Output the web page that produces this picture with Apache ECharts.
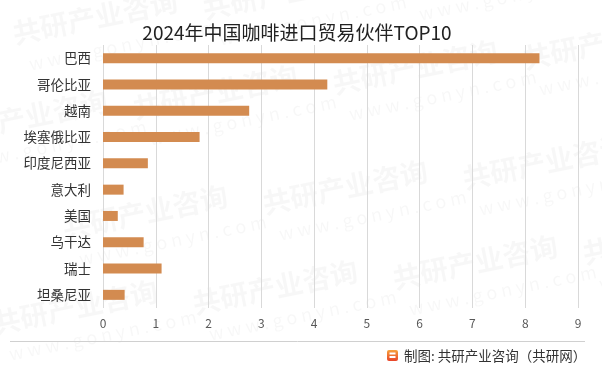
<!DOCTYPE html>
<html>
<head>
<meta charset="utf-8">
<script src="https://cdn.jsdelivr.net/npm/echarts@6/dist/echarts.min.js"></script>
<style>
html,body{margin:0;padding:0;background:#fff;}
#chart{width:602px;height:368px;}
</style>
</head>
<body>
<div id="chart"></div>
<script>
var titleText = '2024年中国咖啡进口贸易伙伴TOP10';
var categories = ['巴西','哥伦比亚','越南','埃塞俄比亚','印度尼西亚','意大利','美国','乌干达','瑞士','坦桑尼亚'];
var values = [8.27, 4.25, 2.77, 1.83, 0.85, 0.39, 0.28, 0.77, 1.11, 0.41];
var xTicks = [0,1,2,3,4,5,6,7,8,9];
var footerText = '制图: 共研产业咨询（共研网）';

var FONT = '"Noto Sans CJK SC", "Noto Sans", sans-serif';

var wm = [];
var wmPos = [[10,20],[200,-5],[400,-30],[-60,120],[130,95],[330,70],[520,45],[60,215],[260,190],[460,165],[-10,310],[190,290],[390,265],[580,240]];
wmPos.forEach(function(p){
  wm.push({type:'group', x:p[0], y:p[1], rotation:0.2, silent:true, z:0,
    children:[
      {type:'text', style:{text:'共研产业咨询', x:0, y:0, fill:'rgba(0,0,0,0.032)', font:'bold 28px ' + FONT}},
      {type:'text', style:{text:'w w w . g o n y n . c o m', x:10, y:38, fill:'rgba(0,0,0,0.032)', font:'18px ' + FONT}}
    ]});
});

var chart = echarts.init(document.getElementById('chart'));
chart.setOption({
  animation:false,
  backgroundColor:'#fff',
  title:{text:titleText, left:292, top:18, textAlign:'center',
    textStyle:{fontFamily:FONT, fontSize:19, fontWeight:'normal', color:'#222'}},
  grid:{left:103, right:24, top:45, bottom:60, containLabel:false},
  xAxis:{type:'value', min:0, max:9, interval:1,
    axisLine:{show:false}, axisTick:{show:false},
    splitLine:{show:true, lineStyle:{color:'#d9d9d9', width:1}},
    axisLabel:{color:'#595959', fontSize:12, fontFamily:FONT, margin:9,
      formatter:function(v){return xTicks.indexOf(v)>=0 ? String(v) : '';}}},
  yAxis:{type:'category', data:categories, inverse:true,
    axisLine:{show:false}, axisTick:{show:false},
    axisLabel:{color:'#333', fontSize:13.5, fontFamily:FONT, margin:12}},
  series:[{type:'bar', data:values, barWidth:10, itemStyle:{color:'#D38B50'}, z:2}],
  graphic: wm.concat([
    {type:'line', shape:{x1:10, y1:341.5, x2:585, y2:341.5}, style:{stroke:'#d0d0d0', lineWidth:1}, z:5},
    {type:'rect', shape:{x:387, y:350, width:11, height:11, r:2},
      style:{fill:new echarts.graphic.LinearGradient(0,0,0,1,[{offset:0,color:'#F7A23B'},{offset:1,color:'#E8442A'}])}, z:5},
    {type:'rect', shape:{x:389.5, y:352.5, width:6, height:2}, style:{fill:'#fff'}, z:6},
    {type:'rect', shape:{x:389.5, y:356, width:6, height:2}, style:{fill:'#fff'}, z:6},
    {type:'text', style:{text:footerText, x:404, y:355.5, textVerticalAlign:'middle', fill:'#333', font:'13.5px ' + FONT}, z:5}
  ])
});
</script>
</body>
</html>
